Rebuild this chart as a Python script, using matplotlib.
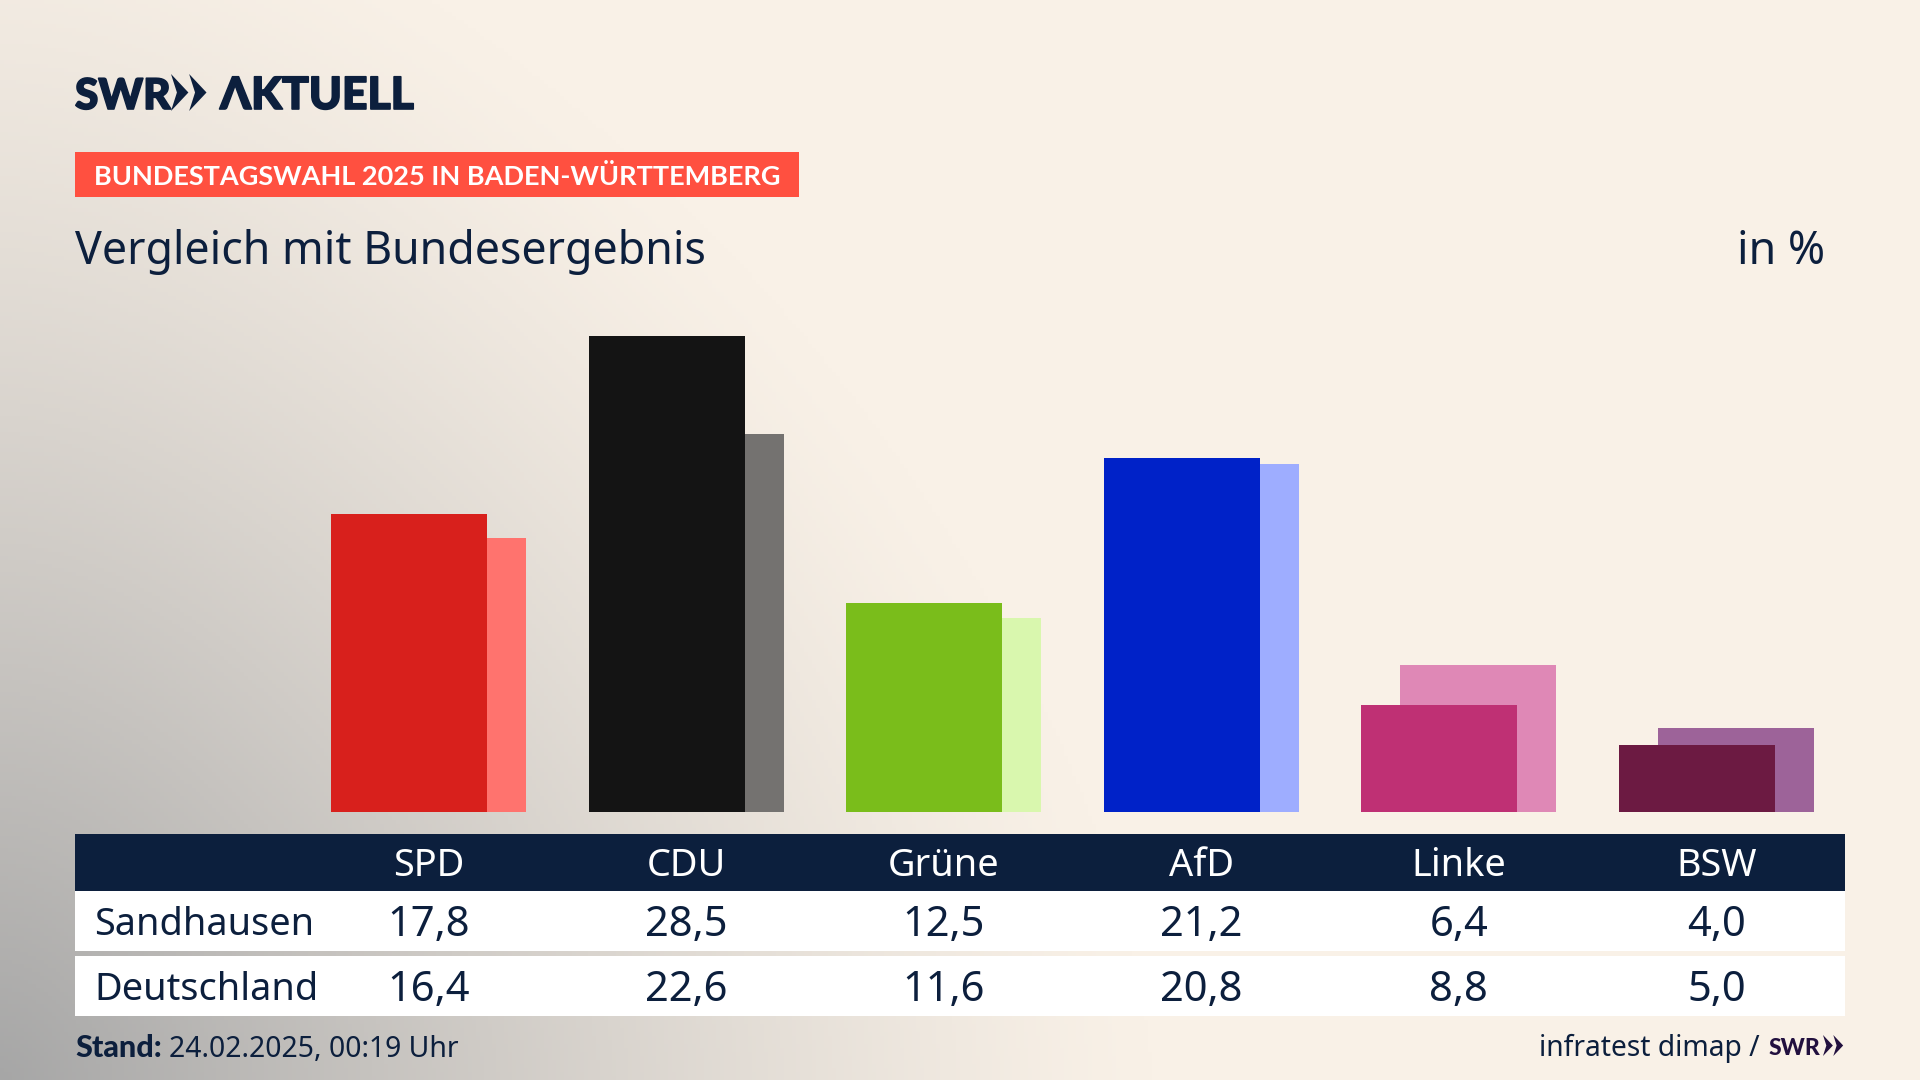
import numpy as np
from matplotlib import pyplot as plt
from matplotlib import patheffects
from matplotlib.patches import Polygon, Rectangle
from matplotlib.transforms import blended_transform_factory

parties = ["SPD", "CDU", "Grüne", "AfD", "Linke", "BSW"]
sandhausen = [17.8, 28.5, 12.5, 21.2, 6.4, 4.0]
deutschland = [16.4, 22.6, 11.6, 20.8, 8.8, 5.0]
main_colors = ["#d8201c", "#141414", "#7abd1b", "#0022c8", "#bf3074", "#6c1a42"]
back_colors = ["#ff736e", "#747270", "#d9f7ae", "#9eadff", "#df88b6", "#9d6399"]

NAVY = "#0c1f3d"
W, H = 1920, 1080
plt.rcParams["font.family"] = ["Noto Sans", "DejaVu Sans"]

fig = plt.figure(figsize=(W / 100, H / 100), dpi=100)

# full figure axes in pixels, for the backdrop, the table and the header
bg = fig.add_axes([0, 0, 1, 1])
bg.set_xlim(0, W)
bg.set_ylim(H, 0)
bg.axis("off")

# cream backdrop that goes grey towards the bottom left corner
yy, xx = np.mgrid[0:H:4, 0:W:4]
r = np.clip(((xx / 1150) ** 1.6 + ((H - yy) / 1250) ** 1.6) ** (1 / 1.6), 0, 1)
t = (1 - r) ** 1.25
t = t[..., None]
cream = np.array([0xf9, 0xf1, 0xe7]) / 255
grey = np.array([0xa6, 0xa6, 0xa6]) / 255
bg.imshow(cream * (1 - t) + grey * t, extent=(0, W, H, 0), aspect="auto", zorder=0)
bg.set_xlim(0, W)
bg.set_ylim(H, 0)

# bars
ax = fig.add_axes([75 / W, (H - 812) / H, 1770 / W, 562 / H])
ax.patch.set_alpha(0)
spacing = 257.6
ax.set_xlim((75 - 428.4) / spacing, (1845 - 428.4) / spacing)
ax.set_ylim(0, 562 / 16.715)
ax.axis("off")
x = np.arange(len(parties))
bar_w = 156 / spacing
off = 19.5 / spacing
ax.bar(x + off, deutschland, bar_w, color=back_colors, zorder=2)
ax.bar(x - off, sandhausen, bar_w, color=main_colors, zorder=3)


# header
def chevrons(x0, y0, h, color):
    w = h * 0.49
    for k in range(2):
        xs = x0 + k * w
        pts = [(xs, y0), (xs + w - 0.02 * h, y0 + h / 2), (xs, y0 + h), (xs + 0.16 * h, y0 + h / 2)]
        bg.add_patch(Polygon(pts, closed=True, color=color, lw=0, zorder=5))


heavy = [patheffects.withStroke(linewidth=1.2, foreground=NAVY)]
bg.text(75, 109, "SWR", color=NAVY, fontsize=30.5, fontweight="black", family="Lato", path_effects=heavy)
chevrons(171, 74, 37, NAVY)
bg.text(220, 109, "ΛKTUELL", color=NAVY, fontsize=32, fontweight="black", family=["Lato", "DejaVu Sans"], path_effects=heavy)

bg.add_patch(Rectangle((75, 152), 724, 45, color="#ff5040", lw=0, zorder=2))
bg.text(94, 185, "BUNDESTAGSWAHL 2025 IN BADEN-WÜRTTEMBERG", color="white", fontsize=19.5, fontweight="bold", family="Lato")
bg.text(75, 264, "Vergleich mit Bundesergebnis", color=NAVY, fontsize=32.2)
bg.text(1825, 264, "in %", color=NAVY, fontsize=32.2, ha="right")

# table
bg.add_patch(Rectangle((75, 834), 1770, 57, color=NAVY, lw=0, zorder=2))
bg.add_patch(Rectangle((75, 891), 1770, 60, color="white", lw=0, zorder=2))
bg.add_patch(Rectangle((75, 956), 1770, 60, color="white", lw=0, zorder=2))

col = blended_transform_factory(ax.transData, bg.transData)
for i, party in enumerate(parties):
    bg.text(i, 876, party, transform=col, color="white", fontsize=27.3, ha="center", zorder=4)
    bg.text(i, 936, f"{sandhausen[i]:.1f}".replace(".", ","), transform=col, color=NAVY, fontsize=30, ha="center", zorder=4)
    bg.text(i, 1001, f"{deutschland[i]:.1f}".replace(".", ","), transform=col, color=NAVY, fontsize=30, ha="center", zorder=4)
bg.text(94, 935, "Sandhausen", color=NAVY, fontsize=27.3, zorder=4)
bg.text(94, 1000, "Deutschland", color=NAVY, fontsize=27.3, zorder=4)

# footer
bg.text(75, 1057, "Stand:", color=NAVY, fontsize=22, fontweight="black", family="Lato")
bg.text(169, 1057, "24.02.2025, 00:19 Uhr", color=NAVY, fontsize=20.4)
bg.text(1760, 1056, "infratest dimap /", color=NAVY, fontsize=20.3, ha="right")
bg.text(1769, 1055, "SWR", color="#22103f", fontsize=16.5, fontweight="black", family="Lato")
chevrons(1823, 1035, 21, "#22103f")

fig.savefig("out.png", dpi=100)
